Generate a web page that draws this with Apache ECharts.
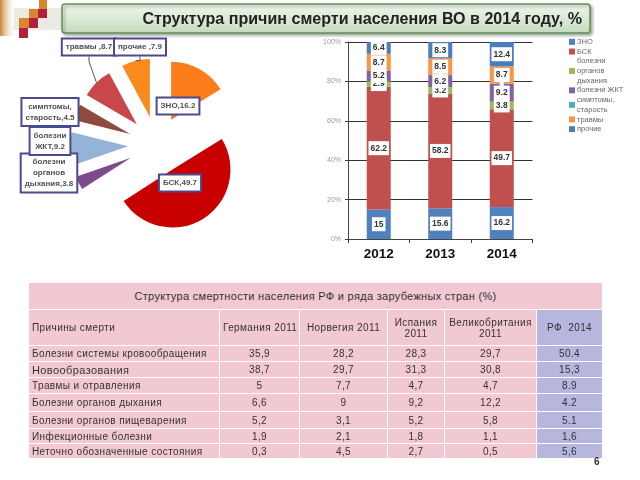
<!DOCTYPE html>
<html><head><meta charset="utf-8">
<script src="https://cdn.jsdelivr.net/npm/echarts@6/dist/echarts.min.js"></script>
<style>
html,body{margin:0;padding:0;background:#fff;}
#chart{position:absolute;left:0;top:0;width:640px;height:480px;}
#tbl{position:absolute;left:28px;top:282px;width:574px;table-layout:fixed;border-collapse:collapse;font-family:'Liberation Sans',Arial,sans-serif;color:#333;font-size:10px;letter-spacing:0.4px;}
#tbl td{border:1.5px solid #fff;background:#f2c9d2;padding:0 3px;text-align:center;white-space:nowrap;overflow:hidden;}
#tbl td.l{text-align:left;}
#tbl td.rf{background:#b6b6df;}
#tbl tr.t td{font-size:11px;letter-spacing:0.3px;}
#pg{position:absolute;left:594px;top:456px;font:bold 10px 'Liberation Sans',Arial,sans-serif;color:#333;}
</style></head>
<body>
<div id="chart"></div>
<table id="tbl"></table>
<div id="pg">6</div>
<script>
// ---- bar chart data ----
const years = ['2012', '2013', '2014'];
const barZNO = [15, 15.6, 16.2];
const barBSK = [62.2, 58.2, 49.7];
const barResp = [2.9, 3.2, 3.8];
const barGI = [5.2, 6.2, 9.2];
const barSymp = [0, 0, 0];
const barInjury = [8.7, 8.5, 8.7];
const barOther = [6.4, 8.3, 12.4];
const barNames = ['ЗНО', 'БСК', 'болезни\nорганов\nдыхания', 'болезни ЖКТ', 'симптомы,\nстарость', 'травмы', 'прочие'];
const yTicks = ['0%', '20%', '40%', '60%', '80%', '100%'];

// ---- pie data (2014) ----
const pieNames = ['ЗНО', 'БСК', 'болезни\nорганов\nдыхания', 'болезни\nЖКТ', 'симптомы,\nстарость', 'травмы ', 'прочие '];
const pieValues = [16.2, 49.7, 3.8, 9.2, 4.5, 8.7, 7.9];

// ---- table data ----
const tableTitle = 'Структура смертности населения РФ и ряда зарубежных стран (%)';
const tableHeads = ['Причины смерти', 'Германия 2011', 'Норвегия 2011', 'Испания<br>2011', 'Великобритания<br>2011', 'РФ&nbsp;&nbsp;2014'];
const causes = ['Болезни системы кровообращения', 'Новообразования', 'Травмы и отравления', 'Болезни органов дыхания', 'Болезни органов пищеварения', 'Инфекционные болезни', 'Неточно обозначенные состояния'];
const germany = ['35,9', '38,7', '5', '6,6', '5,2', '1,9', '0,3'];
const norway = ['28,2', '29,7', '7,7', '9', '3,1', '2,1', '4,5'];
const spain = ['28,3', '31,3', '4,7', '9,2', '5,2', '1,8', '2,7'];
const uk = ['29,7', '30,8', '4,7', '12,2', '5,8', '1,1', '0,5'];
const rf = ['50.4', '15,3', '8.9', '4.2', '5.1', '1,6', '5,6'];

// ---- styles / layout ----
const barColors = ['#4f81bd', '#c0504d', '#9bbb59', '#8064a2', '#4bacc6', '#f79646', '#4a7ebb'];
const pieColors = ['#fb7d1c', '#c80000', '#7d4b8c', '#95b3d7', '#8e4b3d', '#c9474b', '#fa891e'];
const pieLabelPos = [[178, 106], [180, 183], [49, 173], [50, 141], [50, 112], [89, 47], [140, 47]];
const colW = [191, 80, 88, 57, 92, 66];
const rowH = [16, 16, 16, 18, 17, 15, 15];

// build table
(function () {
  const t = document.getElementById('tbl');
  let h = '<colgroup>' + colW.map(w => '<col style="width:' + w + 'px">').join('') + '</colgroup>';
  h += '<tr class="t" style="height:27px"><td colspan="6">' + tableTitle + '</td></tr>';
  h += '<tr style="height:36px">';
  tableHeads.forEach((s, i) => {
    h += '<td class="' + (i === 0 ? 'l' : '') + (i === 5 ? ' rf' : '') + '">' + s + '</td>';
  });
  h += '</tr>';
  causes.forEach((c, r) => {
    const big = r === 1 ? ' style="font-size:11px"' : '';
    h += '<tr style="height:' + rowH[r] + 'px">';
    h += '<td class="l"' + big + '>' + c + '</td>';
    h += '<td>' + germany[r] + '</td><td>' + norway[r] + '</td><td>' + spain[r] + '</td><td>' + uk[r] + '</td>';
    h += '<td class="rf">' + rf[r] + '</td></tr>';
  });
  t.innerHTML = h;
})();

const chart = echarts.init(document.getElementById('chart'), null, { renderer: 'canvas' });
const barData = [barZNO, barBSK, barResp, barGI, barSymp, barInjury, barOther];

const series = barNames.map((n, i) => ({
  name: n,
  type: 'bar',
  stack: 'total',
  barWidth: 24,
  data: barData[i],
  itemStyle: { color: barColors[i] },
  label: {
    show: true,
    position: 'inside',
    formatter: p => (p.value ? String(p.value) : ''),
    backgroundColor: '#fff',
    padding: [3, 2, 2, 2],
    fontSize: 8.5,
    fontWeight: 'bold',
    color: '#333'
  },
  emphasis: { disabled: true }
}));

// visible exploded pie
series.push({
  type: 'pie',
  name: 'pie2014',
  center: [157, 145],
  radius: 58,
  startAngle: 90,
  selectedMode: 'multiple',
  selectedOffset: 29,
  emphasis: { disabled: true },
  label: { show: false },
  labelLine: { show: false },
  data: pieNames.map((n, i) => ({
    name: n, value: pieValues[i], selected: true,
    itemStyle: { color: pieColors[i] }
  }))
});
// transparent outer pie that carries the labels
series.push({
  type: 'pie',
  name: 'pieLabels',
  center: [157, 145],
  radius: 87,
  startAngle: 90,
  silent: true,
  avoidLabelOverlap: false,
  z: 5,
  itemStyle: { color: 'rgba(0,0,0,0)' },
  emphasis: { disabled: true },
  data: pieNames.map((n, i) => ({
    name: n, value: pieValues[i],
    labelLine: { show: i === 5 || i === 6, length: 5, length2: 5, lineStyle: { color: '#555', width: 1 } }
  })),
  label: {
    show: true,
    position: 'outside',
    formatter: '{b},{c}',
    backgroundColor: '#fff',
    borderColor: '#4a4a8e',
    borderWidth: 2,
    padding: [2, 3],
    fontSize: 8,
    lineHeight: 11,
    fontWeight: 'bold',
    color: '#505050',
    align: 'center'
  },
  labelLine: { show: false },
  labelLayout: p => {
    const q = pieLabelPos[p.dataIndex] || [0, 0];
    return { x: q[0], y: q[1], align: 'center', verticalAlign: 'middle' };
  }
});

chart.setOption({
  animation: false,
  backgroundColor: '#fff',
  textStyle: { fontFamily: 'Liberation Sans, Arial, sans-serif' },
  grid: { left: 348, top: 42, width: 184.5, bottom: 241 },
  legend: {
    data: barNames,
    orient: 'vertical',
    left: 569,
    top: 37,
    padding: 0,
    itemWidth: 6,
    itemHeight: 6,
    itemGap: 0,
    icon: 'rect',
    selectedMode: false,
    textStyle: { fontSize: 7.5, color: '#666', lineHeight: 9.7, padding: [0, 0, 0, -3] }
  },
  xAxis: {
    type: 'category',
    data: years,
    axisLine: { lineStyle: { color: '#444' } },
    axisTick: { show: true, length: 4, lineStyle: { color: '#444' } },
    axisLabel: { fontSize: 13.5, fontWeight: 'bold', color: '#111', margin: 8 }
  },
  yAxis: {
    type: 'value',
    min: 0,
    max: 100,
    interval: 20,
    axisLine: { show: true, lineStyle: { color: '#444' } },
    axisTick: { show: true, length: 3, lineStyle: { color: '#444' } },
    splitLine: { lineStyle: { color: '#333', width: 1 } },
    axisLabel: { fontSize: 7, color: '#999', margin: 7, formatter: v => yTicks[v / 20] }
  },
  graphic: [
    { type: 'rect', shape: { x: 14, y: 8, width: 50, height: 22 }, style: { fill: '#ebebe4' } },
    { type: 'rect', shape: { x: 0, y: 0, width: 16, height: 36 },
      style: { fill: new echarts.graphic.LinearGradient(0, 0, 1, 0, [{ offset: 0, color: '#c98434' }, { offset: 1, color: 'rgba(255,255,255,0)' }]) } },
    { type: 'rect', shape: { x: 39, y: 0, width: 8, height: 9 }, style: { fill: '#d9862d' } },
    { type: 'rect', shape: { x: 29, y: 9, width: 9, height: 9 }, style: { fill: '#d9862d' } },
    { type: 'rect', shape: { x: 38, y: 9, width: 9, height: 9 }, style: { fill: '#b3203b' } },
    { type: 'rect', shape: { x: 19, y: 18, width: 10, height: 10 }, style: { fill: '#d9862d' } },
    { type: 'rect', shape: { x: 29, y: 18, width: 9, height: 10 }, style: { fill: '#b3203b' } },
    { type: 'rect', shape: { x: 19, y: 28, width: 9, height: 10 }, style: { fill: '#b3203b' } },
    { type: 'rect', shape: { x: 62, y: 4, width: 528, height: 29, r: 3 },
      style: { fill: new echarts.graphic.LinearGradient(0, 0, 0, 1, [{ offset: 0, color: '#f1f7ee' }, { offset: 1, color: '#c6dbbf' }]),
        stroke: '#5f9354', lineWidth: 1.5, shadowBlur: 3, shadowOffsetX: 2, shadowOffsetY: 2, shadowColor: 'rgba(0,0,0,0.3)' } },
    { type: 'text', x: 582, y: 19, scaleX: 0.945, style: { text: 'Структура причин смерти населения ВО в 2014 году, %', align: 'right', verticalAlign: 'middle',
        font: 'bold 17px "Liberation Sans", Arial, sans-serif', fill: '#222' } }
  ],
  series: series
});
</script>
</body></html>
